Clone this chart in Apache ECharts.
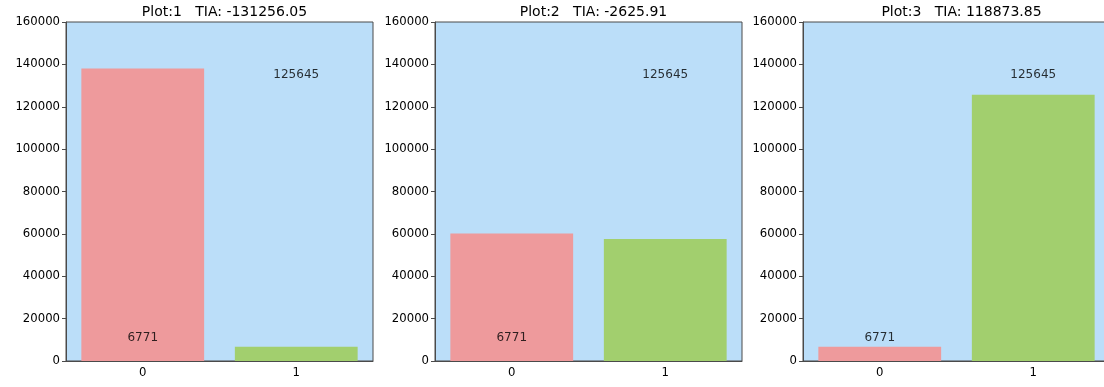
<!DOCTYPE html>
<html>
<head>
<meta charset="utf-8">
<script src="https://cdn.jsdelivr.net/npm/echarts@6/dist/echarts.min.js"></script>
<style>
  html, body { margin: 0; padding: 0; background: #ffffff; }
  #chart { width: 1104px; height: 387px; }
</style>
</head>
<body>
<div id="chart"></div>
<script>
// Class counts for each of the three panels
const categories = ['0', '1'];
const plotNames = ['Plot:1', 'Plot:2', 'Plot:3'];
const tiaValues = ['-131256.05', '-2625.91', '118873.85'];
const class0Values = [138027.05, 60200, 6771];
const class1Values = [6771, 57574.09, 125645];
// Count annotations written above each category
const countLabels = [6771, 125645];
const yMax = 160000;
const yStep = 20000;

const barColors = ['#ee9a9c', '#a2cf6e'];
const panelLeft = [66, 435, 803];
const panelWidth = 307;
const panelTop = 22;
const panelHeight = 339;
const axisColor = '#4a4a4a';
const font = 'DejaVu Sans, sans-serif';

const grids = [], xAxes = [], yAxes = [], series = [], titles = [];

plotNames.forEach((name, i) => {
  grids.push({
    left: panelLeft[i], top: panelTop, width: panelWidth, height: panelHeight,
    outerBoundsMode: 'none', containLabel: false,
    show: true, backgroundColor: '#bbdef9', borderColor: axisColor, borderWidth: 1
  });
  titles.push({
    text: name + '   TIA: ' + tiaValues[i],
    left: panelLeft[i] + panelWidth / 2, top: 0, textAlign: 'center',
    textStyle: { fontFamily: font, fontSize: 14, fontWeight: 'normal', color: '#000' }
  });
  xAxes.push({
    type: 'category', gridIndex: i, data: categories, boundaryGap: true,
    axisLine: { lineStyle: { color: axisColor, width: 1 } },
    axisTick: { alignWithLabel: true, length: 4, lineStyle: { color: axisColor } },
    axisLabel: { fontFamily: font, fontSize: 11.7, color: '#000', margin: 6 },
    splitLine: { show: false }
  });
  yAxes.push({
    type: 'value', gridIndex: i, min: 0, max: yMax, interval: yStep,
    axisLine: { show: true, lineStyle: { color: axisColor, width: 1 } },
    axisTick: { show: true, length: 4, lineStyle: { color: axisColor } },
    axisLabel: { fontFamily: font, fontSize: 11.7, color: '#000', margin: 6,
      formatter: v => String(v) },
    splitLine: { show: false }
  });
  series.push({
    type: 'bar', xAxisIndex: i, yAxisIndex: i, barWidth: '80%',
    data: [
      { value: class0Values[i], itemStyle: { color: barColors[0] } },
      { value: class1Values[i], itemStyle: { color: barColors[1] } }
    ],
    silent: true
  });
  // text annotations placed a little above each count
  series.push({
    type: 'scatter', xAxisIndex: i, yAxisIndex: i, symbolSize: 0, silent: true,
    data: countLabels.map((v, k) => ({ value: [k, v * 1.047 + 3620], label: { formatter: String(v) } })),
    label: {
      show: true, position: 'inside', fontFamily: font, fontSize: 12, color: '#000'
    },
    z: 5
  });
});

const chart = echarts.init(document.getElementById('chart'), null, { renderer: 'canvas' });
chart.setOption({
  animation: false,
  title: titles,
  grid: grids,
  xAxis: xAxes,
  yAxis: yAxes,
  series: series
});
</script>
</body>
</html>
